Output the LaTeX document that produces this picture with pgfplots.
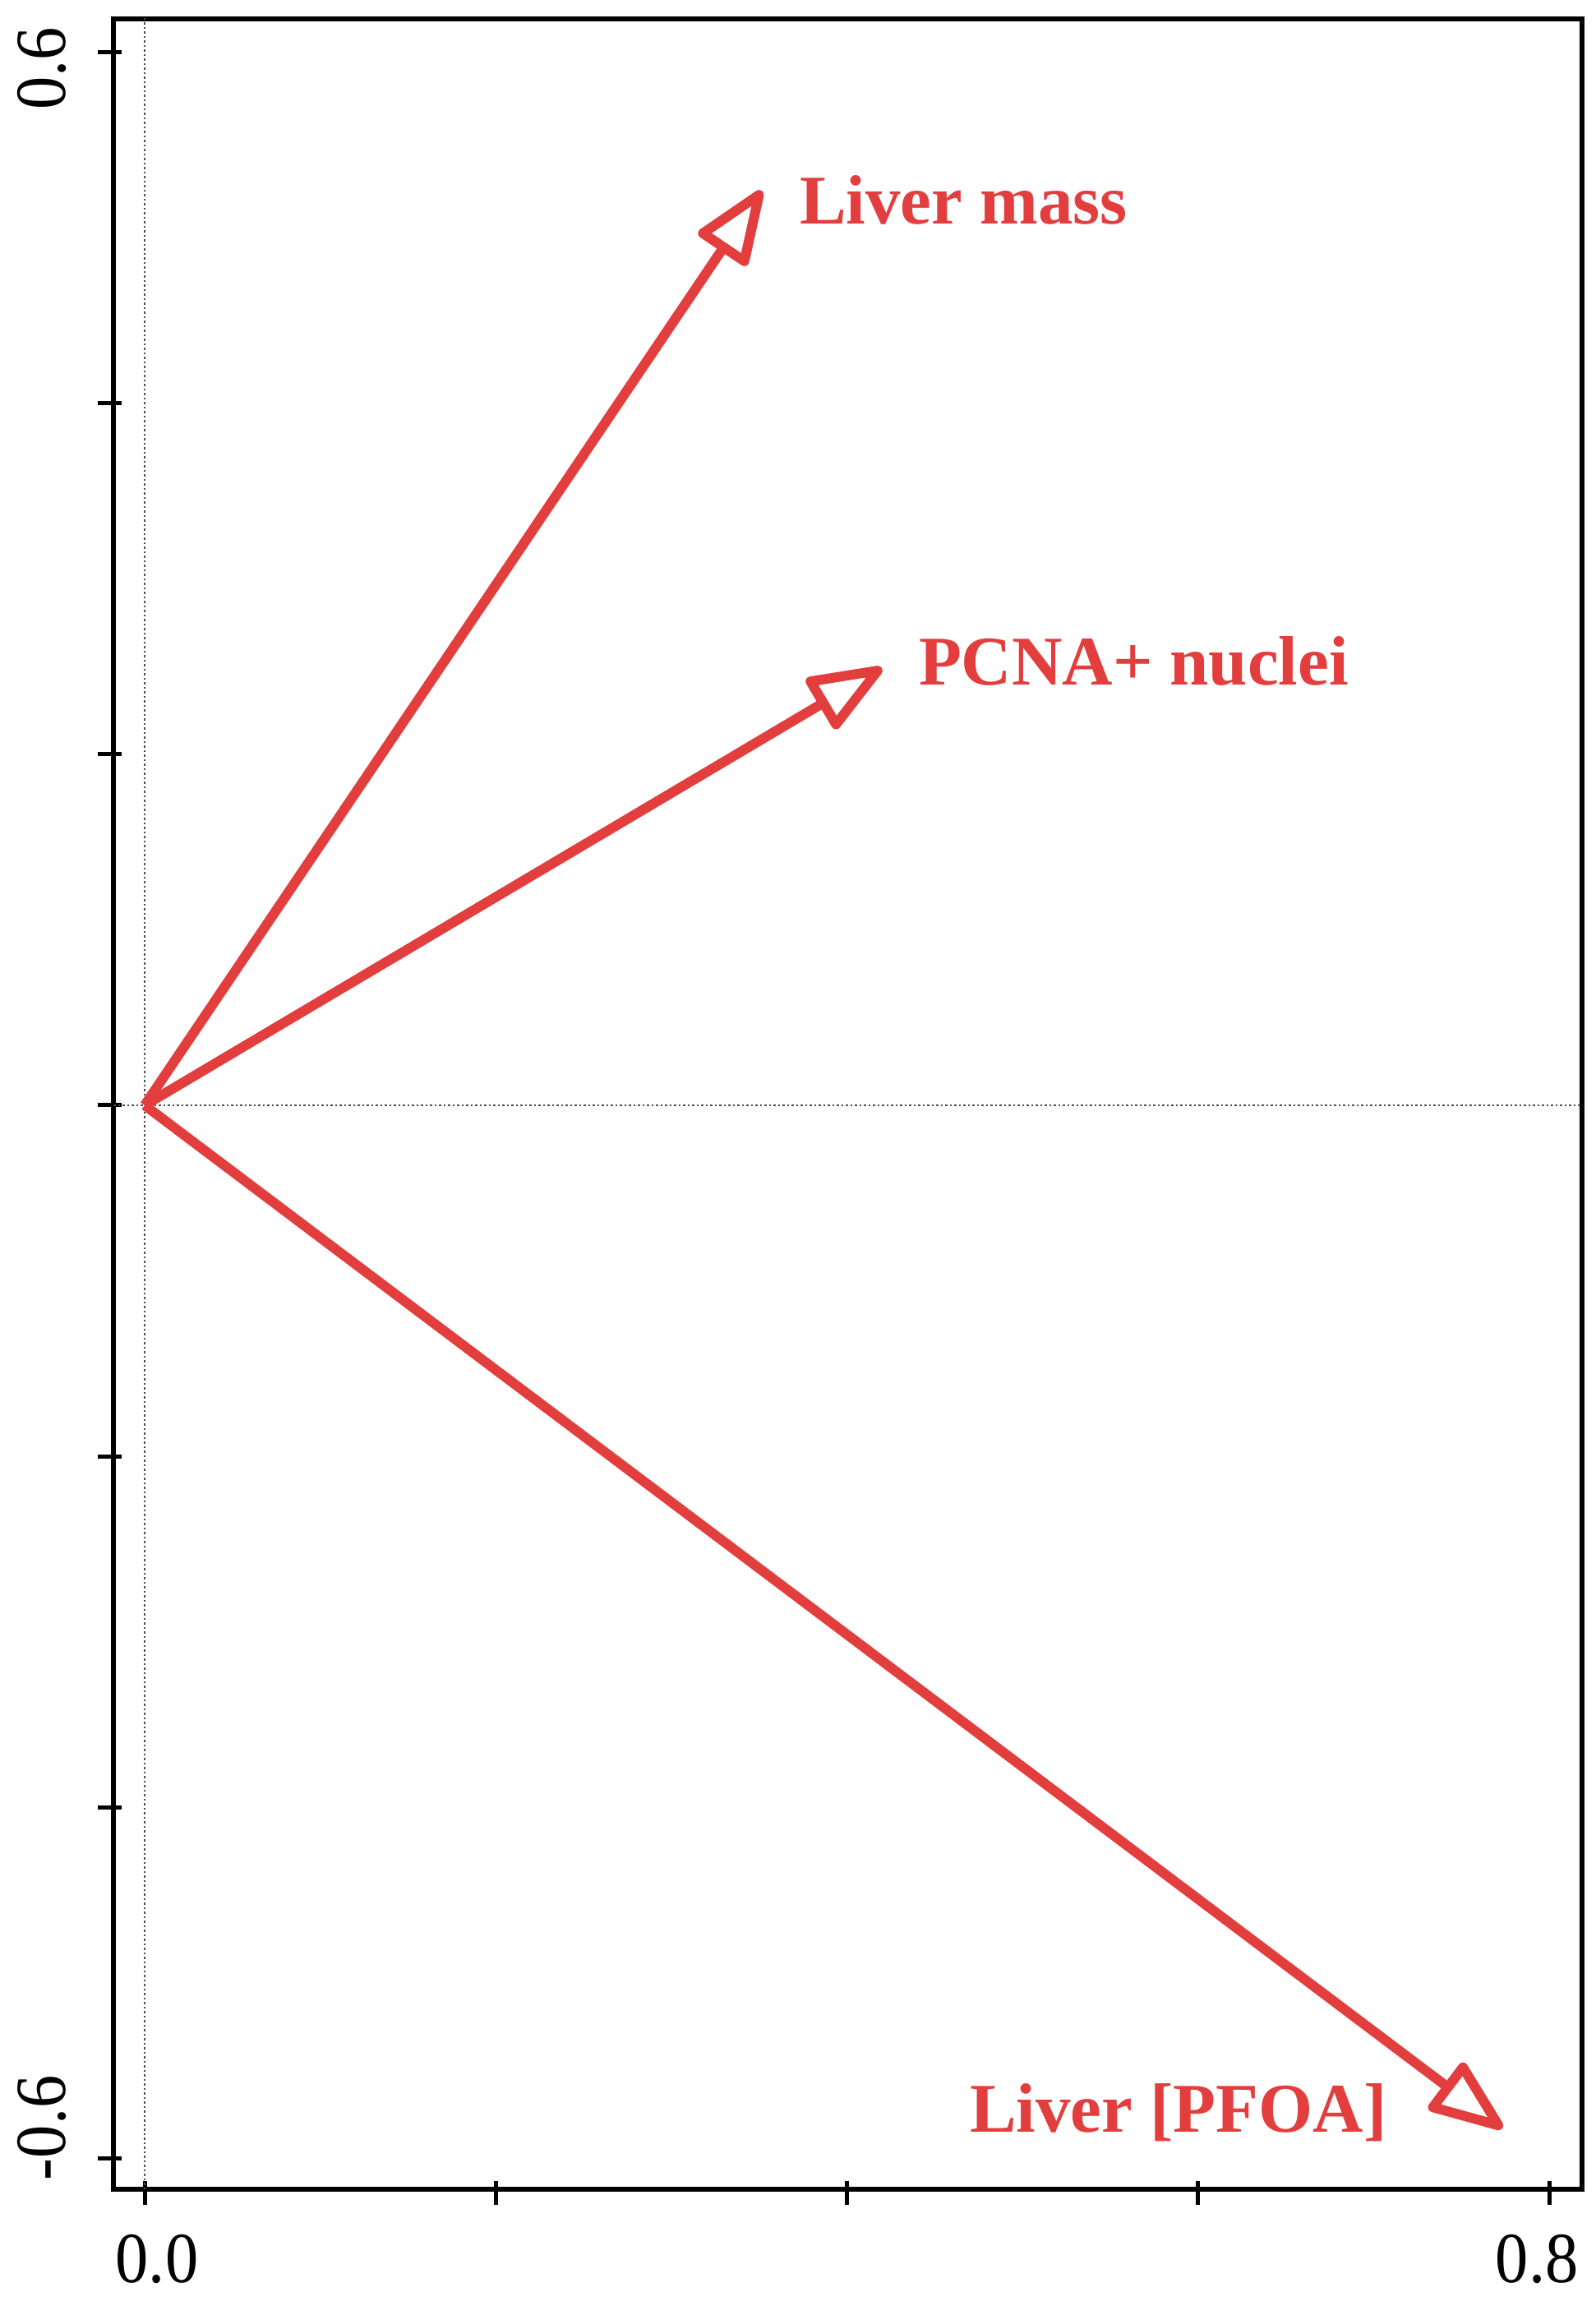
\documentclass[border=0pt]{standalone}
\usepackage{fontspec}
\setmainfont{Liberation Serif}
\newfontfamily\tickfont{Liberation Serif}[FakeStretch=0.92]
\usepackage{pgfplots}
\pgfplotsset{compat=1.18}
\usetikzlibrary{arrows.meta}
\definecolor{arrred}{RGB}{227,62,62}
\begin{document}
\begin{tikzpicture}
\begin{axis}[
 scale only axis, width=357.4pt, height=528.2pt,
 xmin=-0.01779, xmax=0.8187, ymin=-0.6174, ymax=0.6188,
 axis line style={line width=1.1pt},
 xtick={0,0.2,0.4,0.6,0.8},
 xticklabels={\hspace*{6pt}0.0,,,,0.8\hspace*{6pt}},
 ytick={-0.6,-0.4,-0.2,0,0.2,0.4,0.6},
 yticklabels={\hspace*{15pt}-0.6,,,,,,0.6\hspace*{8pt}},
 xtick pos=bottom, ytick pos=left,
 tick align=outside,
 major tick length=5.8pt,
 tick style={black, line width=1pt},
 xtick style={yshift=2pt},
 ytick style={xshift=2pt},
 xticklabel style={font=\tickfont\fontsize{17.5}{20}\selectfont, anchor=north, inner sep=0pt, yshift=-5pt},
 yticklabel style={font=\tickfont\fontsize{17.5}{20}\selectfont, rotate=90, anchor=south, inner sep=0pt, yshift=5.4pt},
]
\addplot[gray!60!black, line width=0.5pt, dash pattern=on 0.5pt off 0.6pt] coordinates {(0,-0.7) (0,0.7)};
\addplot[gray!60!black, line width=0.5pt, dash pattern=on 0.5pt off 0.6pt] coordinates {(-0.1,0) (0.9,0)};
\addplot[arrred, line width=2.4pt, line join=round, -{Triangle[open,length=20pt,width=15pt,round]}] coordinates {(0,0) (0.3515,0.5209)};
\addplot[arrred, line width=2.4pt, line join=round, -{Triangle[open,length=20pt,width=15pt,round]}] coordinates {(0,0) (0.4199,0.2490)};
\addplot[arrred, line width=2.4pt, line join=round, -{Triangle[open,length=20pt,width=15pt,round]}] coordinates {(0,0) (0.7733,-0.5827)};
\node[anchor=base west, inner sep=0pt, text=arrred, font=\bfseries\fontsize{17}{20}\selectfont] at (axis cs:0.3726,0.5022) {Liver mass};
\node[anchor=base west, inner sep=0pt, text=arrred, font=\bfseries\fontsize{17}{20}\selectfont] at (axis cs:0.4405,0.2396) {PCNA+ nuclei};
\node[anchor=base west, inner sep=0pt, text=arrred, font=\bfseries\fontsize{17}{20}\selectfont] at (axis cs:0.4695,-0.585) {Liver [PFOA]};
\end{axis}
\pgfresetboundingbox
\useasboundingbox ([xshift=-27.6pt,yshift=-27.2pt]current axis.south west) rectangle ([xshift=3.4pt,yshift=4.6pt]current axis.north east);
\end{tikzpicture}
\end{document}
